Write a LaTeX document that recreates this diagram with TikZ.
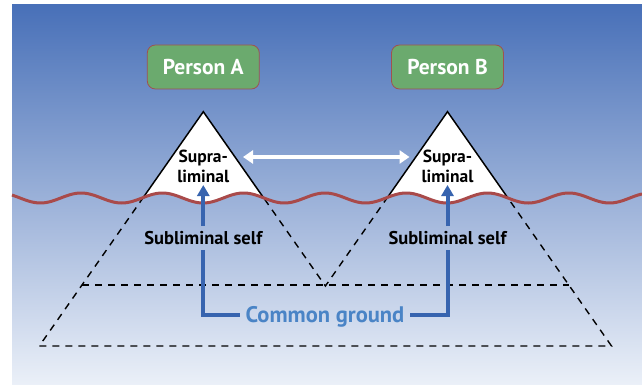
\documentclass[tikz,border=0pt]{standalone}
\usepackage{fontspec}
\setmainfont{PT Sans}
\usetikzlibrary{arrows.meta}

\definecolor{skytop}{HTML}{4870B8}
\definecolor{skybot}{HTML}{EBF0F8}
\definecolor{boxgreen}{HTML}{6BAA6E}
\definecolor{boxedge}{HTML}{A0524F}
\definecolor{wavered}{HTML}{A94A4A}
\definecolor{linkblue}{HTML}{3764AF}
\definecolor{labelblue}{HTML}{4A84C6}

\begin{document}
\begin{tikzpicture}[x=1pt,y=-1pt,
  personbox/.style={draw=boxedge, line width=0.8pt, fill=boxgreen,
    rounded corners=8pt, minimum width=112pt, minimum height=44pt,
    text=white, font=\fontsize{21.5}{24}\selectfont\bfseries},
  tiplabel/.style={font=\fontsize{17.5}{20}\selectfont\bfseries, inner sep=0pt, anchor=base},
  sublabel/.style={font=\fontsize{18.5}{22}\selectfont\bfseries, anchor=base, inner xsep=0pt, inner ysep=5pt},
  hidden/.style={black, line width=1.4pt, dash pattern=on 7pt off 6pt},
  peak/.style={fill=white, draw=black, line width=1.5pt},
  link/.style={linkblue, line width=4pt},
  linktip/.style={-{Triangle[length=11pt,width=12pt]}},
  exchange/.style={white, line width=3.5pt, {Triangle[length=10pt,width=13pt]}-{Triangle[length=10pt,width=13pt]}}
]
\useasboundingbox (0,0) rectangle (642,385);

% sky / water background
\shade[top color=skytop, bottom color=skybot] (12,5) rectangle (642,385);

% key points of the two icebergs
\coordinate (apexA) at (203.3,111.7);
\coordinate (apexB) at (447.5,111.7);
\coordinate (baseL) at (39.3,346);
\coordinate (baseR) at (611.5,346);
\coordinate (meet)  at (325.4,286);
\coordinate (midL)  at (82,285);
\coordinate (midR)  at (568.8,285);

% visible tips above the water line  (water line: y = 198 + 5 cos(4.428 (x - 40.4)), period 81.3)
\begin{scope}
  \clip (12,0) -- plot[domain=12:642,samples=300] (\x,{198+5*cos(4.428*(\x-40.4))}) -- (642,0) -- cycle;
  \filldraw[peak] (apexA) -- ++(-84,120) -- ++(168,0) -- cycle;
  \filldraw[peak] (apexB) -- ++(-84,120) -- ++(168,0) -- cycle;
\end{scope}

% hidden parts below the water line
\begin{scope}
  \clip (12,385) -- plot[domain=12:642,samples=300] (\x,{198+5*cos(4.428*(\x-40.4))}) -- (642,385) -- cycle;
  \draw[hidden] (apexA) -- (baseL) -- (baseR) -- (apexB) -- (meet) -- cycle;
  \draw[hidden] (midL) -- (midR);
\end{scope}

% water line
\draw[wavered, line width=3pt] plot[domain=12:642,samples=300] (\x,{198+5*cos(4.428*(\x-40.4))});

% persons
\node[personbox] (personA) at (203.3,67) {Person A};
\node[personbox] (personB) at (447.5,67) {Person B};

% labels inside the tips
\node[tiplabel] (supA1) at (203.3,162) {Supra-};
\node[tiplabel] (supA2) at (203.3,182) {liminal};
\node[tiplabel] (supB1) at (447.5,162) {Supra-};
\node[tiplabel] (supB2) at (447.5,182) {liminal};

% exchange between the conscious tips
\coordinate (exA) at (243,157);
\coordinate (exB) at (409.5,157);
\draw[exchange] (exA) -- (exB);

% subliminal selves
\node[sublabel] (subA) at (203.3,244.5) {Subliminal self};
\node[sublabel] (subB) at (447.5,244.5) {Subliminal self};

\coordinate (tipA) at (203.3,185);
\coordinate (tipB) at (447.5,185);
\draw[link, linktip] (subA.north) -- (tipA);
\draw[link, linktip] (subB.north) -- (tipB);

% common ground
\node[font=\fontsize{22.5}{26}\selectfont\bfseries, text=labelblue, anchor=base,
      inner xsep=5pt, inner ysep=0pt] (common) at (325,322) {Common ground};
\coordinate (commonL) at ([yshift=7pt]common.base west);
\coordinate (commonR) at ([yshift=7pt]common.base east);
\draw[link] (subA.south) |- (commonL);
\draw[link] (subB.south) |- (commonR);
\end{tikzpicture}
\end{document}
